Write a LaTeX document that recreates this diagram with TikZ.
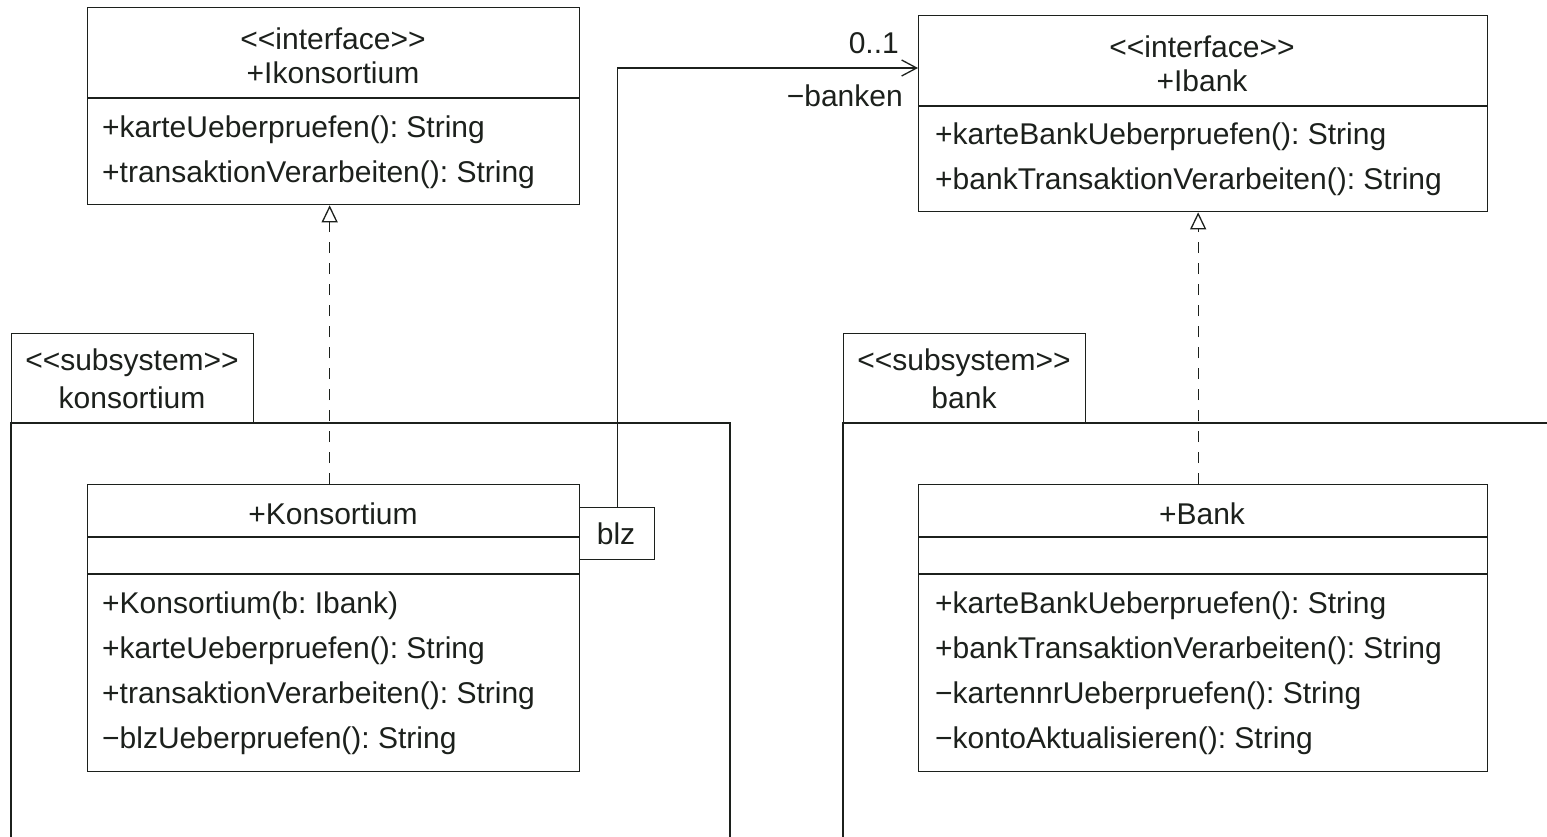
\documentclass[tikz,border=0pt]{standalone}
\usepackage{fontspec}
\setmainfont{Liberation Sans}
\usetikzlibrary{arrows.meta,calc}
\definecolor{ln}{RGB}{28,32,28}
\frenchspacing
\begin{document}
\begin{tikzpicture}[x=1pt,y=-1pt,
  font=\fontsize{30}{36}\selectfont\frenchspacing,
  edge/.style={line width=1.3pt, draw=ln},
  box/.style={draw=ln, line width=1.3pt, inner sep=0pt, anchor=north west},
  ctext/.style={anchor=base, inner sep=0pt, text=ln},
  ltext/.style={anchor=base west, inner sep=0pt, text=ln},
  rtext/.style={anchor=base east, inner sep=0pt, text=ln},
  real/.style={edge, dash pattern=on 11pt off 10pt, -{Triangle[open, length=17pt, width=16pt]}},
  assoc/.style={edge, -{Straight Barb[length=15pt, width=16pt]}}
]
\useasboundingbox (0,0) rectangle (1547,836);

% ---------- subsystem konsortium ----------
\node[box, minimum width=242pt, minimum height=90pt] (tabk) at (11,333) {};
\node[ctext] (tabk1) at (132,370) {<{}<subsystem>{}>};
\node[ctext] (tabk2) at (132,408) {konsortium};
\draw[edge] (11,840) -- (11,423) -- (730,423) -- (730,840);

% ---------- subsystem bank ----------
\node[box, minimum width=242pt, minimum height=90pt] (tabb) at (843,333) {};
\node[ctext] (tabb1) at (964,370) {<{}<subsystem>{}>};
\node[ctext] (tabb2) at (964,408) {bank};
\draw[edge] (843,840) -- (843,423) -- (1550,423);

% ---------- interface IKonsortium ----------
\node[box, minimum width=492pt, minimum height=197pt] (ik) at (87,7) {};
\draw[edge] (87,98) -- (579,98);
\node[ctext] (ik1) at (333,49) {<{}<interface>{}>};
\node[ctext] (ik2) at (333,83) {+Ikonsortium};
\node[ltext] (ik3) at (102,137) {+karteUeberpruefen(): String};
\node[ltext] (ik4) at (102,182) {+transaktionVerarbeiten(): String};

% ---------- interface Ibank ----------
\node[box, minimum width=569pt, minimum height=196pt] (ib) at (918,15) {};
\draw[edge] (918,106) -- (1487,106);
\node[ctext] (ib1) at (1202,57) {<{}<interface>{}>};
\node[ctext] (ib2) at (1202,91) {+Ibank};
\node[ltext] (ib3) at (935,144) {+karteBankUeberpruefen(): String};
\node[ltext] (ib4) at (935,189) {+bankTransaktionVerarbeiten(): String};

% ---------- class Konsortium ----------
\node[box, minimum width=492pt, minimum height=287pt] (k) at (87,484) {};
\draw[edge] (87,537) -- (579,537);
\draw[edge] (87,574) -- (579,574);
\node[ctext] (k1) at (333,524) {+Konsortium};
\node[ltext] (k2) at (102,613) {+Konsortium(b: Ibank)};
\node[ltext] (k3) at (102,658) {+karteUeberpruefen(): String};
\node[ltext] (k4) at (102,703) {+transaktionVerarbeiten(): String};
\node[ltext] (k5) at (102,748) {\char"2212blzUeberpruefen(): String};

% qualifier
\node[box, minimum width=75pt, minimum height=52pt] (blz) at (579,507) {};
\node[ctext] (blzt) at (616,544) {blz};

% ---------- class Bank ----------
\node[box, minimum width=569pt, minimum height=287pt] (b) at (918,484) {};
\draw[edge] (918,537) -- (1487,537);
\draw[edge] (918,574) -- (1487,574);
\node[ctext] (b1) at (1202,524) {+Bank};
\node[ltext] (b2) at (935,613) {+karteBankUeberpruefen(): String};
\node[ltext] (b3) at (935,658) {+bankTransaktionVerarbeiten(): String};
\node[ltext] (b4) at (935,703) {\char"2212kartennrUeberpruefen(): String};
\node[ltext] (b5) at (935,748) {\char"2212kontoAktualisieren(): String};

% ---------- connectors ----------
\draw[real] ([xshift=-4pt]k.north) -- ([xshift=-4pt]ik.south);
\draw[real] ([xshift=-5pt]b.north) -- ([xshift=-5pt]ib.south);

\coordinate (ibin) at ($(ib.north west)+(0,53)$);
\draw[assoc] (blz.north) |- (ibin);
\node[rtext] (mult) at (899,53) {0..1};
\node[rtext] (role) at (903,106) {\char"2212banken};

\end{tikzpicture}
\end{document}
